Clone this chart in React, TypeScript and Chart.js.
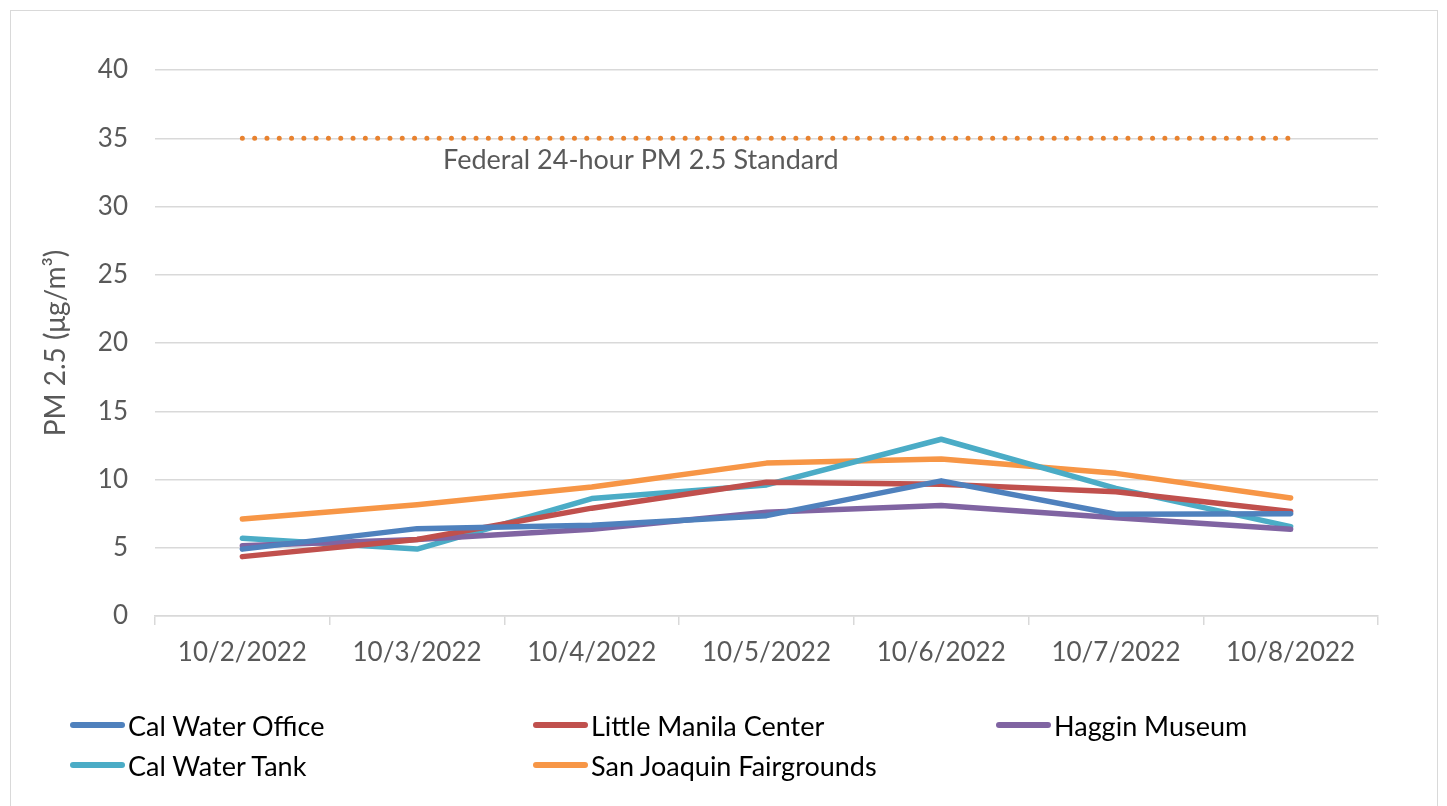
import React, { useEffect, useRef } from "react";
import { Chart, registerables } from "chart.js";

Chart.register(...registerables);

const categories = ["10/2/2022", "10/3/2022", "10/4/2022", "10/5/2022", "10/6/2022", "10/7/2022", "10/8/2022"];
const calWaterOffice = [4.9, 6.4, 6.65, 7.35, 9.9, 7.45, 7.5];
const littleManilaCenter = [4.35, 5.6, 7.9, 9.8, 9.65, 9.1, 7.65];
const hagginMuseum = [5.15, 5.6, 6.35, 7.6, 8.1, 7.2, 6.35];
const calWaterTank = [5.7, 4.9, 8.6, 9.6, 12.95, 9.35, 6.55];
const sanJoaquinFairgrounds = [7.1, 8.15, 9.45, 11.2, 11.5, 10.45, 8.65];
const federalStandard = [35, 35, 35, 35, 35, 35, 35];

const seriesNames = ["Cal Water Office", "Little Manila Center", "Haggin Museum", "Cal Water Tank", "San Joaquin Fairgrounds"];
const seriesValues = [calWaterOffice, littleManilaCenter, hagginMuseum, calWaterTank, sanJoaquinFairgrounds];
const seriesColors = ["#4F81BD", "#C0504D", "#8064A2", "#4BACC6", "#F79646"];
const standardLabel = "Federal 24-hour PM 2.5 Standard";
const standardColor = "#E8822F";
const yTitle = "PM 2.5 (μg/m³)";
const yTicks = { min: 0, max: 40, step: 5 };

const FONT = "Lato, 'Open Sans', sans-serif";
const GRAY = "#595959";
const GRID = "#D9D9D9";

const standardLabelPlugin = {
  id: "standardLabel",
  afterDatasetsDraw(chart: any) {
    const { ctx, scales } = chart;
    const x = scales.x.getPixelForValue(1) + 26;
    const y = scales.y.getPixelForValue(federalStandard[0]) + 22;
    ctx.save();
    ctx.font = `27px ${FONT}`;
    ctx.fillStyle = GRAY;
    ctx.textAlign = "left";
    ctx.textBaseline = "middle";
    ctx.fillText(standardLabel, x, y);
    ctx.restore();
  },
};

export default function App() {
  const canvasRef = useRef<HTMLCanvasElement | null>(null);

  useEffect(() => {
    if (!canvasRef.current) return;
    const datasets: any[] = seriesNames.map((name, i) => ({
      label: name,
      data: seriesValues[i],
      borderColor: seriesColors[i],
      backgroundColor: seriesColors[i],
      borderWidth: 5.5,
      borderCapStyle: "round",
      borderJoinStyle: "round",
      pointRadius: 0,
      tension: 0,
      fill: false,
    }));
    datasets.push({
      label: standardLabel,
      data: federalStandard,
      borderColor: standardColor,
      backgroundColor: standardColor,
      borderWidth: 5,
      borderCapStyle: "round",
      borderDash: [0, 12.3],
      pointRadius: 0,
      fill: false,
    });
    const chart = new Chart(canvasRef.current, {
      type: "line",
      data: { labels: categories, datasets },
      plugins: [standardLabelPlugin],
      options: {
        animation: false,
        responsive: false,
        maintainAspectRatio: false,
        layout: { padding: { left: 0, right: 69, top: 70, bottom: 0 } },
        plugins: { legend: { display: false }, tooltip: { enabled: false } },
        scales: {
          x: {
            offset: true,
            grid: {
              offset: true,
              drawOnChartArea: false,
              drawTicks: true,
              tickLength: 9,
              color: GRID,
              lineWidth: 1.5,
            },
            border: { display: true, color: GRID, width: 1.5 },
            ticks: { color: GRAY, font: { family: FONT, size: 26 }, padding: 12, maxRotation: 0, autoSkip: false },
            afterFit: (s: any) => {
              s.height = 190;
            },
          },
          y: {
            min: yTicks.min,
            max: yTicks.max,
            grid: { color: GRID, lineWidth: 1.5, drawTicks: false },
            border: { display: false },
            ticks: { stepSize: yTicks.step, color: GRAY, font: { family: FONT, size: 26 }, padding: 27 },
            title: {
              display: true,
              text: yTitle,
              color: GRAY,
              font: { family: FONT, size: 28, weight: "normal" },
              padding: { top: 39, bottom: 0 },
            },
            afterFit: (s: any) => {
              s.width = 155;
            },
          },
        },
      },
    });
    return () => chart.destroy();
  }, []);

  return (
    <div style={{ position: "fixed", left: 0, top: 0, width: 1447, height: 806, background: "#fff", overflow: "hidden" }}>
      <div
        style={{
          position: "absolute",
          left: 10,
          top: 10,
          width: 1428,
          height: 820,
          border: "1.5px solid #D9D9D9",
          boxSizing: "border-box",
        }}
      />
      <canvas ref={canvasRef} width={1447} height={806} style={{ position: "absolute", left: 0, top: 0 }} />
      <div
        style={{
          position: "absolute",
          left: 70,
          top: 705,
          display: "grid",
          gridTemplateColumns: "463px 463px 463px",
          gridAutoRows: "40px",
          fontFamily: FONT,
          fontSize: 27,
          color: "#000",
        }}
      >
        {seriesNames.map((name, i) => (
          <div key={name} style={{ display: "flex", alignItems: "center", whiteSpace: "nowrap" }}>
            <span
              style={{
                display: "inline-block",
                width: 55,
                height: 5.5,
                borderRadius: 3,
                background: seriesColors[i],
                marginRight: 3,
              }}
            />
            <span>{name}</span>
          </div>
        ))}
      </div>
    </div>
  );
}
